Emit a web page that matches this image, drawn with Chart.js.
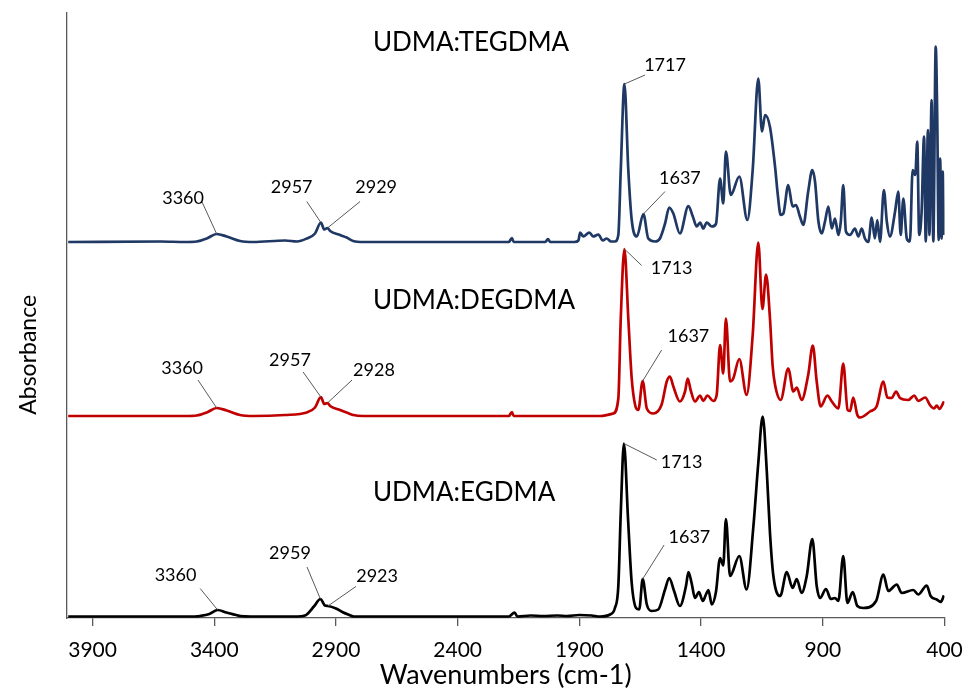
<!DOCTYPE html>
<html>
<head>
<meta charset="utf-8">
<title>FTIR spectra</title>
<script src="https://cdn.jsdelivr.net/npm/chart.js@4.4.1/dist/chart.umd.min.js"></script>
<style>
  html, body { margin: 0; padding: 0; background: #fff; }
</style>
</head>
<body>
<canvas id="chart" width="966" height="689"></canvas>
<script>
// x axis ticks (cm-1)
const tickValues = [3900, 3400, 2900, 2400, 1900, 1400, 900, 400];

const seriesNames = ['UDMA:TEGDMA', 'UDMA:DEGDMA', 'UDMA:EGDMA'];
const seriesColors = ['#1f3864', '#c00000', '#000000'];
// vertical stacking offset of each spectrum
const seriesOffsets = [0.752, 0.404, 0.003];

// UDMA:TEGDMA
const tegWn = [4000, 3620, 3520, 3472, 3431, 3390, 3349, 3294, 3240, 3109, 3060, 3020, 2986, 2962, 2948, 2935, 2924, 2883, 2856, 2829, 2788,
  2190, 2177, 2170, 2040, 2029, 2020, 1920, 1904, 1897, 1884, 1859, 1843, 1822, 1804, 1788, 1770, 1754,
  1740, 1730, 1715, 1699, 1685, 1664, 1637, 1617, 1589, 1569, 1548, 1531, 1514, 1487, 1452, 1434, 1418, 1404, 1391, 1377, 1356, 1339,
  1322, 1309, 1298, 1278, 1243, 1210, 1188, 1165, 1150, 1137, 1117, 1096, 1085, 1073, 1062, 1042, 1024, 1010, 994, 980, 960, 943, 932,
  918, 904, 891, 877, 863, 850, 836, 826, 816, 805, 788, 768, 754, 740, 727, 713, 699, 686, 676, 665, 649, 637, 624, 603, 590, 580, 569,
  555, 542, 531, 520, 512, 504, 494, 484, 477, 468, 462, 453, 446, 436, 430, 424, 418, 412, 407, 402];
const tegAbs = [0, 0.001, 0, 0.001, 0.007, 0.016, 0.011, 0.002, 0, 0.003, 0.001, 0.007, 0.017, 0.039, 0.025, 0.028, 0.022, 0.014, 0.009, 0.002, 0,
  0, 0.008, 0, 0, 0.006, 0, 0, 0.003, 0.019, 0.011, 0.019, 0.011, 0.015, 0.003, 0.007, 0.001, 0.001,
  0.014, 0.144, 0.316, 0.144, 0.044, 0.011, 0.056, 0.007, 0.001, 0.007, 0.037, 0.069, 0.057, 0.017, 0.072, 0.051, 0.031, 0.039, 0.027, 0.039, 0.031, 0.036,
  0.127, 0.077, 0.181, 0.094, 0.131, 0.044, 0.144, 0.327, 0.221, 0.254, 0.230, 0.150, 0.095, 0.054, 0.057, 0.114, 0.071, 0.074, 0.051, 0.034, 0.101, 0.144, 0.121,
  0.041, 0.017, 0.041, 0.071, 0.027, 0.047, 0.014, 0.041, 0.114, 0.021, 0.014, 0.027, 0.011, 0.027, 0.007, 0, 0.049, 0.007, 0.044, 0, 0.104, 0.041, 0.011, 0.061, 0.101, 0.014, 0.087,
  0.007, 0.001, 0.144, 0.134, 0.201, 0.014, 0.061, 0.211, 0.001, 0.224, 0.014, 0.284, 0.001, 0.391, 0.254, 0.004, 0.167, 0.007, 0.141, 0.014];

// UDMA:DEGDMA
const degWn = [4000, 3520, 3472, 3431, 3390, 3349, 3294, 3240, 3110, 3020, 2986, 2962, 2948, 2935, 2924, 2883, 2856, 2829, 2788,
  2190, 2177, 2170, 1815, 1761, 1740, 1730, 1715, 1699, 1685, 1671, 1658, 1640, 1623, 1596, 1562, 1541, 1528, 1514, 1487, 1466, 1455, 1443,
  1425, 1404, 1391, 1374, 1350, 1336, 1322, 1309, 1298, 1281, 1268, 1243, 1213, 1188, 1165, 1148, 1133, 1117, 1106, 1096, 1073, 1042, 1021,
  1007, 987, 960, 941, 925, 909, 881, 863, 836, 816, 798, 788, 775, 758, 747, 706, 679, 651, 635, 617, 599, 583, 549, 524, 508, 479, 460,
  443, 432, 421, 402];
const degAbs = [0, 0, 0.001, 0.007, 0.016, 0.011, 0.002, 0, 0.002, 0.007, 0.017, 0.038, 0.024, 0.026, 0.020, 0.012, 0.007, 0.002, 0,
  0, 0.008, 0, 0, 0.005, 0.035, 0.195, 0.334, 0.195, 0.075, 0.022, 0.012, 0.070, 0.015, 0.005, 0.023, 0.069, 0.079, 0.059, 0.029, 0.049, 0.075, 0.052,
  0.029, 0.041, 0.030, 0.041, 0.030, 0.042, 0.142, 0.085, 0.195, 0.069, 0.075, 0.114, 0.042, 0.162, 0.347, 0.214, 0.283, 0.195, 0.100, 0.062, 0.032, 0.095, 0.049,
  0.057, 0.032, 0.082, 0.141, 0.069, 0.019, 0.041, 0.029, 0.015, 0.105, 0.012, 0.010, 0.037, 0.002, -0.003, 0.009, 0.019, 0.069, 0.037, 0.036, 0.049, 0.036, 0.032, 0.041, 0.030, 0.037, 0.022,
  0.015, 0.021, 0.014, 0.029];

// UDMA:EGDMA
const egWn = [4000, 3480, 3458, 3420, 3386, 3350, 3293, 3250, 3060, 3027, 2989, 2964, 2945, 2933, 2900, 2870, 2850, 2826,
  2190, 2166, 2155, 2100, 2050, 1990, 1950, 1900, 1850, 1815, 1774, 1754, 1740, 1730, 1717, 1700, 1685, 1667, 1654, 1640, 1623, 1603, 1576,
  1548, 1531, 1511, 1487, 1462, 1452, 1439, 1425, 1409, 1393, 1380, 1370, 1356, 1339, 1322, 1309, 1298, 1281, 1243, 1213, 1185, 1165, 1147,
  1130, 1117, 1103, 1075, 1048, 1024, 1007, 987, 966, 943, 925, 911, 887, 867, 850, 836, 816, 799, 777, 758, 734, 681, 651, 631, 596, 576,
  528, 508, 473, 457, 432, 416, 402];
const egAbs = [0, 0, 0.001, 0.005, 0.013, 0.008, 0.001, 0, 0, 0.002, 0.021, 0.035, 0.022, 0.021, 0.016, 0.008, 0.004, 0,
  0, 0.008, 0, 0.002, 0.001, 0.002, 0.001, 0.003, 0.002, 0, 0.004, 0.017, 0.061, 0.207, 0.346, 0.194, 0.067, 0.017, 0.014, 0.075, 0.024, 0.011, 0.014,
  0.054, 0.077, 0.051, 0.021, 0.061, 0.089, 0.067, 0.037, 0.049, 0.031, 0.044, 0.053, 0.024, 0.049, 0.117, 0.102, 0.195, 0.081, 0.121, 0.054, 0.181, 0.307, 0.400,
  0.290, 0.167, 0.081, 0.041, 0.089, 0.057, 0.075, 0.047, 0.081, 0.155, 0.061, 0.037, 0.055, 0.035, 0.037, 0.031, 0.121, 0.027, 0.049, 0.021, 0.017, 0.031, 0.084, 0.051, 0.064, 0.047,
  0.053, 0.044, 0.062, 0.041, 0.034, 0.029, 0.042];

const seriesWn = [tegWn, degWn, egWn];
const seriesAbs = [tegAbs, degAbs, egAbs];

// peak callouts: series index, peak wavenumber in the data, label, text anchor and leader start
const peakLabels = [
  { s: 0, peak: 1715, text: '1717', tx: 1548, ty: 1.105, lx: 1630, ly: 1.086 },
  { s: 0, peak: 1637, text: '1637', tx: 1487, ty: 0.879, lx: 1548, ly: 0.853 },
  { s: 0, peak: 3390, text: '3360', tx: 3528, ty: 0.840, lx: 3451, ly: 0.833 },
  { s: 0, peak: 2962, text: '2957', tx: 3082, ty: 0.862, lx: 3020, ly: 0.833 },
  { s: 0, peak: 2935, text: '2929', tx: 2735, ty: 0.861, lx: 2801, ly: 0.833 },
  { s: 1, peak: 1715, text: '1713', tx: 1521, ty: 0.699, lx: 1644, ly: 0.705 },
  { s: 1, peak: 1640, text: '1637', tx: 1452, ty: 0.563, lx: 1562, ly: 0.536 },
  { s: 1, peak: 3390, text: '3360', tx: 3532, ty: 0.500, lx: 3467, ly: 0.476 },
  { s: 1, peak: 2962, text: '2957', tx: 3089, ty: 0.516, lx: 3035, ly: 0.492 },
  { s: 1, peak: 2935, text: '2928', tx: 2744, ty: 0.496, lx: 2834, ly: 0.476 },
  { s: 2, peak: 1717, text: '1713', tx: 1480, ty: 0.311, lx: 1582, ly: 0.316 },
  { s: 2, peak: 1640, text: '1637', tx: 1448, ty: 0.161, lx: 1552, ly: 0.146 },
  { s: 2, peak: 3386, text: '3360', tx: 3559, ty: 0.086, lx: 3458, ly: 0.059 },
  { s: 2, peak: 2964, text: '2959', tx: 3089, ty: 0.130, lx: 3019, ly: 0.102 },
  { s: 2, peak: 2933, text: '2923', tx: 2731, ty: 0.083, lx: 2818, ly: 0.063 }
];

// spectrum names, left aligned
const nameX = 2748;
const nameY = [1.150, 0.634, 0.250];

const FONT = 'Lato, "Open Sans", sans-serif';

const datasets = seriesNames.map((name, i) => ({
  label: name,
  data: seriesWn[i].map((wn, k) => ({ x: wn, y: seriesAbs[i][k] + seriesOffsets[i] })),
  borderColor: seriesColors[i],
  borderWidth: 2.7,
  pointRadius: 0,
  cubicInterpolationMode: 'monotone',
  fill: false
}));

const calloutPlugin = {
  id: 'callouts',
  afterDraw(chart) {
    const { ctx, scales: { x, y }, chartArea } = chart;
    ctx.save();

    // leader lines
    ctx.strokeStyle = '#595959';
    ctx.lineWidth = 1;
    peakLabels.forEach(p => {
      const k = seriesWn[p.s].indexOf(p.peak);
      const py = seriesAbs[p.s][k] + seriesOffsets[p.s];
      ctx.beginPath();
      ctx.moveTo(x.getPixelForValue(p.lx), y.getPixelForValue(p.ly));
      ctx.lineTo(x.getPixelForValue(p.peak), y.getPixelForValue(py));
      ctx.stroke();
    });

    // peak labels
    ctx.fillStyle = '#000';
    ctx.font = '18px ' + FONT;
    ctx.textAlign = 'center';
    ctx.textBaseline = 'middle';
    peakLabels.forEach(p => {
      ctx.fillText(p.text, x.getPixelForValue(p.tx), y.getPixelForValue(p.ty));
    });

    // spectrum names
    ctx.font = '26px ' + FONT;
    ctx.textAlign = 'left';
    seriesNames.forEach((name, i) => {
      ctx.fillText(name, x.getPixelForValue(nameX), y.getPixelForValue(nameY[i]));
    });

    // y axis title
    ctx.font = '23px ' + FONT;
    ctx.textAlign = 'center';
    ctx.translate(29, chartArea.top + (chartArea.bottom - chartArea.top) * 0.565);
    ctx.rotate(-Math.PI / 2);
    ctx.fillText('Absorbance', 0, 0);
    ctx.restore();
  }
};

new Chart(document.getElementById('chart'), {
  type: 'line',
  data: { datasets },
  options: {
    responsive: false,
    animation: false,
    layout: { padding: { top: 13, right: 21.5, left: 0, bottom: 0 } },
    plugins: { legend: { display: false }, tooltip: { enabled: false } },
    scales: {
      x: {
        type: 'linear',
        reverse: true,
        min: 400,
        max: 4005,
        afterBuildTicks: axis => { axis.ticks = tickValues.map(v => ({ value: v })); },
        afterFit: axis => {
          axis.height = 71;
          // the end labels fit inside the outer padding
          axis.paddingLeft = 0;
          axis.paddingRight = 0;
        },
        grid: { drawOnChartArea: false, drawTicks: true, tickLength: 8, color: '#595959', lineWidth: 1.3 },
        border: { display: true, color: '#595959', width: 1.3 },
        ticks: {
          autoSkip: false, maxRotation: 0, padding: 12, color: '#000',
          font: { family: FONT, size: 21 },
          callback: v => String(v)
        },
        title: {
          display: true, text: 'Wavenumbers (cm-1)', color: '#000',
          font: { family: FONT, size: 27, lineHeight: 1.05 },
          padding: { top: 0, bottom: 0 }
        }
      },
      y: {
        min: 0,
        max: 1.21,
        afterFit: axis => { axis.width = 67; },
        ticks: { display: false },
        grid: { display: false },
        border: { display: true, color: '#595959', width: 1.3 }
      }
    }
  },
  plugins: [calloutPlugin]
});
</script>
</body>
</html>
